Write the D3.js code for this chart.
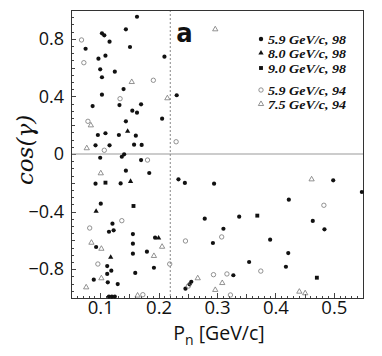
<!DOCTYPE html>
<html>
<head>
<meta charset="utf-8">
<script src="https://cdn.jsdelivr.net/npm/d3@7"></script>
<style>
  body { margin: 0; background: #fff; }
  svg { display: block; }
</style>
</head>
<body>
<svg id="chart"></svg>
<script>
const xTicks = [0.1, 0.2, 0.3, 0.4, 0.5]
const yTicks = [-0.8, -0.4, 0, 0.4, 0.8]
const cutX = 0.22
const panelLabel = 'a'
const legendLabels = ['5.9 GeV/c, 98', '8.0 GeV/c, 98', '9.0 GeV/c, 98', '5.9 GeV/c, 94', '7.5 GeV/c, 94']

// 5.9 GeV/c, 98 (filled dots)
const dots98 = [
  [0.163, 0.953], [0.144, 0.866], [0.103, 0.838], [0.107, 0.824], [0.116, 0.780],
  [0.075, 0.731], [0.151, 0.743], [0.210, 0.676], [0.109, 0.683], [0.097, 0.662],
  [0.100, 0.588], [0.125, 0.572], [0.103, 0.533], [0.140, 0.451], [0.103, 0.412],
  [0.231, 0.408], [0.087, 0.333], [0.133, 0.340], [0.170, 0.345], [0.155, 0.301],
  [0.163, 0.287], [0.206, 0.245], [0.144, 0.227], [0.109, 0.144], [0.096, 0.132],
  [0.132, 0.132], [0.161, 0.127], [0.092, 0.060], [0.116, 0.060], [0.158, 0.065],
  [0.171, 0.063], [0.100, -0.026], [0.137, -0.019], [0.141, -0.002], [0.170, -0.042],
  [0.144, -0.116], [0.184, -0.132], [0.092, -0.206], [0.135, -0.204], [0.234, -0.176],
  [0.245, -0.201], [0.295, -0.206], [0.101, -0.345], [0.279, -0.449], [0.121, -0.484],
  [0.115, -0.540], [0.123, -0.530], [0.156, -0.556], [0.093, -0.646], [0.194, -0.581],
  [0.293, -0.618], [0.156, -0.623], [0.180, -0.678], [0.156, -0.692], [0.112, -0.778],
  [0.192, -0.790], [0.119, -0.810], [0.112, -0.833], [0.160, -0.826], [0.089, -0.873],
  [0.113, -0.891], [0.256, -0.887], [0.253, -0.905], [0.130, -0.903], [0.246, -0.935],
  [0.499, -0.183], [0.548, -0.264], [0.423, -0.317], [0.338, -0.435], [0.464, -0.465],
  [0.311, -0.519], [0.484, -0.523], [0.391, -0.595], [0.422, -0.688], [0.355, -0.750],
  [0.418, -0.783], [0.328, -0.842], [0.115, -0.990], [0.120, -0.990], [0.125, -0.990]
]

// 8.0 GeV/c, 98 (filled triangles)
const tri98 = [
  [0.147, 0.158], [0.152, -0.190], [0.093, -0.398], [0.118, -0.717], [0.200, -0.583]
]

// 9.0 GeV/c, 98 (filled squares)
const sq98 = [
  [0.109, -0.199], [0.157, -0.361], [0.369, -0.428], [0.471, -0.859]
]

// 5.9 GeV/c, 94 (open circles)
const circ94 = [
  [0.068, 0.792], [0.072, 0.634], [0.191, 0.512], [0.134, 0.384], [0.079, 0.227],
  [0.230, 0.085], [0.107, 0.026], [0.181, -0.042], [0.137, -0.463], [0.082, -0.514],
  [0.246, -0.604], [0.096, -0.764], [0.219, -0.764], [0.294, -0.838], [0.251, -0.917],
  [0.173, -0.977], [0.483, -0.356], [0.308, -0.576], [0.375, -0.813], [0.317, -0.833],
  [0.323, -0.979]
]

// 7.5 GeV/c, 94 (open triangles)
const tri94 = [
  [0.297, 0.866], [0.154, 0.500], [0.215, 0.387], [0.084, 0.199], [0.077, 0.040],
  [0.101, -0.134], [0.085, -0.616], [0.102, -0.658], [0.206, -0.644], [0.192, -0.708],
  [0.102, -0.863], [0.267, -0.863], [0.076, -0.926], [0.297, -0.944], [0.164, -0.983],
  [0.462, -0.176], [0.309, -0.896], [0.441, -0.956], [0.451, -0.967]
]

const width = 382
const height = 356
const margin = { top: 10, right: 19, bottom: 58, left: 71 }
const plotW = width - margin.left - margin.right
const plotH = height - margin.top - margin.bottom

const svg = d3.select('#chart')
  .attr('width', width)
  .attr('height', height)

const g = svg.append('g')
  .attr('transform', `translate(${margin.left}, ${margin.top})`)

const xScale = d3.scaleLinear().domain([0.05, 0.55]).range([0, plotW])
const yScale = d3.scaleLinear().domain([-1, 1]).range([plotH, 0])

// minor ticks first, then labelled ones
g.append('g')
  .attr('class', 'xMinor')
  .attr('transform', `translate(0, ${plotH})`)
  .call(d3.axisBottom(xScale).tickValues(d3.range(0.06, 0.55, 0.01)).tickSize(-2.5).tickFormat(''))

g.append('g')
  .attr('class', 'xMid')
  .attr('transform', `translate(0, ${plotH})`)
  .call(d3.axisBottom(xScale).tickValues([0.05, 0.15, 0.25, 0.35, 0.45]).tickSize(-4).tickFormat(''))

g.append('g')
  .attr('class', 'xAxis')
  .attr('transform', `translate(0, ${plotH})`)
  .call(d3.axisBottom(xScale).tickValues(xTicks).tickSize(-5).tickPadding(3).tickFormat(d3.format('.1f')))

g.append('g')
  .attr('class', 'yMinor')
  .call(d3.axisLeft(yScale).tickValues(d3.range(-0.95, 1, 0.05)).tickSize(-2.5).tickFormat(''))

g.append('g')
  .attr('class', 'yMid')
  .call(d3.axisLeft(yScale).tickValues([-0.6, -0.2, 0.2, 0.6]).tickSize(-4).tickFormat(''))

g.append('g')
  .attr('class', 'yAxis')
  .call(d3.axisLeft(yScale).tickValues(yTicks).tickSize(-5).tickPadding(7)
    .tickFormat(d => d === 0 ? '0' : d3.format('.1f')(d)))

g.selectAll('.domain').remove()
g.selectAll('.tick line').attr('stroke', '#444').attr('shape-rendering', 'crispEdges')
g.selectAll('.xAxis text, .yAxis text')
  .attr('fill', '#111')
  .style('font-family', '"Open Sans", sans-serif')
g.selectAll('.xAxis text').style('font-size', '18.5px')
g.selectAll('.yAxis text').style('font-size', '18px')

// zero line and cut line
g.append('line')
  .attr('x1', 0)
  .attr('x2', plotW)
  .attr('y1', yScale(0))
  .attr('y2', yScale(0))
  .attr('stroke', '#999')
  .attr('stroke-width', 1.2)

g.append('line')
  .attr('x1', xScale(cutX))
  .attr('x2', xScale(cutX))
  .attr('y1', 0)
  .attr('y2', plotH)
  .attr('stroke', '#888')
  .attr('stroke-dasharray', '2,2')

// frame
g.append('rect')
  .attr('width', plotW)
  .attr('height', plotH)
  .attr('fill', 'none')
  .attr('stroke', '#333')
  .attr('shape-rendering', 'crispEdges')

const triSymbol = d3.symbol().type(d3.symbolTriangle).size(12)
const sqSymbol = d3.symbol().type(d3.symbolSquare).size(15)

const marks = g.append('g').attr('class', 'marks')

function drawCircles (data, open) {
  marks.selectAll(null)
    .data(data)
    .enter()
    .append('circle')
    .attr('cx', d => xScale(d[0]))
    .attr('cy', d => yScale(d[1]))
    .attr('r', open ? 2.2 : 2.1)
    .attr('fill', open ? 'none' : '#111')
    .attr('stroke', open ? '#777' : 'none')
    .attr('stroke-width', 0.8)
}

function drawSymbols (data, symbol, open) {
  marks.selectAll(null)
    .data(data)
    .enter()
    .append('path')
    .attr('d', symbol)
    .attr('transform', d => `translate(${xScale(d[0])}, ${yScale(d[1])})`)
    .attr('fill', open ? 'none' : '#111')
    .attr('stroke', open ? '#777' : 'none')
    .attr('stroke-width', 0.8)
}

drawCircles(dots98, false)
drawSymbols(tri98, triSymbol, false)
drawSymbols(sq98, sqSymbol, false)
drawCircles(circ94, true)
drawSymbols(tri94, triSymbol, true)

// panel label
g.append('text')
  .attr('x', xScale(cutX) + 6)
  .attr('y', 32)
  .style('font-family', '"Liberation Sans Narrow", "DejaVu Sans Condensed", sans-serif')
  .style('font-weight', 'bold')
  .style('font-size', '27px')
  .attr('fill', '#111')
  .text(panelLabel)

// legend
const legendRows = [29, 43, 58, 80, 94]
const legendTypes = ['dot', 'tri', 'sq', 'circ', 'otri']
const legend = g.append('g').attr('transform', 'translate(190, 0)')

legendTypes.forEach((type, i) => {
  const y = legendRows[i]
  if (type === 'dot' || type === 'circ') {
    legend.append('circle')
      .attr('cx', 0)
      .attr('cy', y)
      .attr('r', 2.2)
      .attr('fill', type === 'dot' ? '#111' : 'none')
      .attr('stroke', type === 'dot' ? 'none' : '#777')
      .attr('stroke-width', 0.8)
  } else {
    legend.append('path')
      .attr('d', type === 'sq' ? sqSymbol : triSymbol)
      .attr('transform', `translate(0, ${y})`)
      .attr('fill', type === 'otri' ? 'none' : '#111')
      .attr('stroke', type === 'otri' ? '#777' : 'none')
      .attr('stroke-width', 0.8)
  }
  legend.append('text')
    .attr('x', 7)
    .attr('y', y + 4.5)
    .attr('textLength', 78)
    .attr('lengthAdjust', 'spacingAndGlyphs')
    .style('font-family', '"Liberation Serif", "Times New Roman", serif')
    .style('font-style', 'italic')
    .style('font-weight', 'bold')
    .style('font-size', '13px')
    .attr('fill', '#111')
    .text(legendLabels[i])
})

// axis titles
const xTitle = svg.append('text')
  .attr('x', margin.left + plotW / 2 + 2)
  .attr('y', 340)
  .style('text-anchor', 'middle')
  .style('font-family', '"Open Sans", sans-serif')
  .style('font-size', '19.5px')
  .attr('fill', '#111')

xTitle.append('tspan').text('P')
xTitle.append('tspan').attr('dy', 5).style('font-size', '14px').text('n')
xTitle.append('tspan').attr('dy', -5).text(' [GeV/c]')

svg.append('text')
  .attr('transform', 'translate(33, 150) rotate(-90)')
  .style('text-anchor', 'middle')
  .style('font-family', '"DejaVu Serif", serif')
  .style('font-style', 'italic')
  .style('font-size', '23px')
  .attr('fill', '#111')
  .text('cos(γ)')
</script>
</body>
</html>
